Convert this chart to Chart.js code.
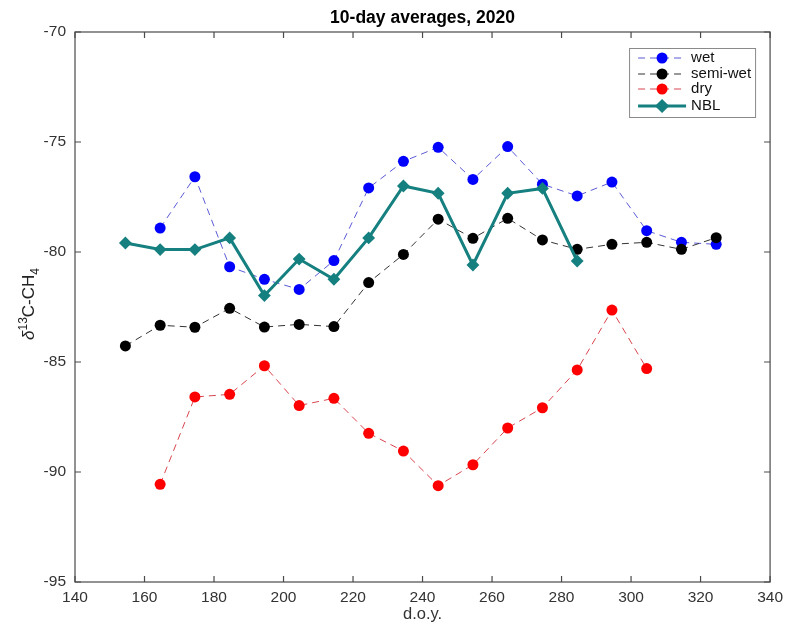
<!DOCTYPE html>
<html>
<head>
<meta charset="utf-8">
<script src="https://cdn.jsdelivr.net/npm/chart.js@4/dist/chart.umd.min.js"></script>
<style>
  html,body{margin:0;padding:0;background:#fff;}
  #wrap{width:789px;height:630px;}
</style>
</head>
<body>
<div id="wrap"><canvas id="c" width="789" height="630"></canvas></div>
<script>
// ---- data ----
const xTickValues = [140, 160, 180, 200, 220, 240, 260, 280, 300, 320, 340];
const yTickValues = [-95, -90, -85, -80, -75, -70];

const doyWet = [164.5, 174.5, 184.5, 194.5, 204.5, 214.5, 224.5, 234.5, 244.5, 254.5, 264.5, 274.5, 284.5, 294.5, 304.5, 314.5, 324.5];
const wet = [-78.91, -76.58, -80.67, -81.24, -81.70, -80.39, -77.09, -75.88, -75.24, -76.70, -75.21, -76.92, -77.45, -76.82, -79.03, -79.56, -79.65];

const doySemi = [154.5, 164.5, 174.5, 184.5, 194.5, 204.5, 214.5, 224.5, 234.5, 244.5, 254.5, 264.5, 274.5, 284.5, 294.5, 304.5, 314.5, 324.5];
const semiWet = [-84.27, -83.33, -83.42, -82.56, -83.41, -83.29, -83.39, -81.39, -80.11, -78.51, -79.38, -78.47, -79.45, -79.88, -79.65, -79.56, -79.88, -79.35];

const doyDry = [164.5, 174.5, 184.5, 194.5, 204.5, 214.5, 224.5, 234.5, 244.5, 254.5, 264.5, 274.5, 284.5, 294.5, 304.5];
const dry = [-90.56, -86.59, -86.47, -85.17, -86.98, -86.65, -88.24, -89.05, -90.62, -89.67, -88.00, -87.08, -85.36, -82.64, -85.30];

const doyNBL = [154.5, 164.5, 174.5, 184.5, 194.5, 204.5, 214.5, 224.5, 234.5, 244.5, 254.5, 264.5, 274.5, 284.5];
const nbl = [-79.59, -79.89, -79.89, -79.36, -81.98, -80.32, -81.24, -79.36, -77.00, -77.33, -80.59, -77.33, -77.11, -80.41];

const seriesNames = ['wet', 'semi-wet', 'dry', 'NBL'];

const pts = (xs, ys) => xs.map((x, i) => ({x: x, y: ys[i]}));

const FONT = '"Liberation Sans", Arial, Helvetica, sans-serif';

const datasets = [
  {label: seriesNames[0], data: pts(doyWet, wet), borderColor: '#5a5ad6', borderWidth: 1, borderDash: [7, 5],
   pointBackgroundColor: '#0000ff', pointBorderColor: '#0000ff', pointRadius: 5.5, pointBorderWidth: 0, pointStyle: 'circle', order: 3},
  {label: seriesNames[1], data: pts(doySemi, semiWet), borderColor: '#333333', borderWidth: 1, borderDash: [7, 5],
   pointBackgroundColor: '#000000', pointBorderColor: '#000000', pointRadius: 5.5, pointBorderWidth: 0, pointStyle: 'circle', order: 2},
  {label: seriesNames[2], data: pts(doyDry, dry), borderColor: '#d9454f', borderWidth: 1, borderDash: [7, 5],
   pointBackgroundColor: '#ff0000', pointBorderColor: '#ff0000', pointRadius: 5.5, pointBorderWidth: 0, pointStyle: 'circle', order: 4},
  {label: seriesNames[3], data: pts(doyNBL, nbl), borderColor: '#15807f', borderWidth: 3, borderDash: [],
   pointBackgroundColor: '#15807f', pointBorderColor: '#15807f', pointRadius: 5, pointBorderWidth: 2, pointStyle: 'rectRot', order: 1}
];
datasets.forEach(d => { d.showLine = true; d.fill = false; d.tension = 0; d.pointHoverRadius = d.pointRadius; });

const framePlugin = {
  id: 'frame',
  afterDatasetsDraw(chart) {
    const ctx = chart.ctx;
    const a = chart.chartArea;
    const xs = chart.scales.x, ys = chart.scales.y;
    ctx.save();
    // box
    ctx.strokeStyle = '#4a4a4a';
    ctx.lineWidth = 1.2;
    ctx.strokeRect(a.left, a.top, a.right - a.left, a.bottom - a.top);
    // inward ticks
    const tl = 6;
    ctx.beginPath();
    xTickValues.forEach(v => {
      const px = xs.getPixelForValue(v);
      ctx.moveTo(px, a.bottom); ctx.lineTo(px, a.bottom - tl);
      ctx.moveTo(px, a.top); ctx.lineTo(px, a.top + tl);
    });
    yTickValues.forEach(v => {
      const py = ys.getPixelForValue(v);
      ctx.moveTo(a.left, py); ctx.lineTo(a.left + tl, py);
      ctx.moveTo(a.right, py); ctx.lineTo(a.right - tl, py);
    });
    ctx.stroke();

    // y-axis label with super/subscripts
    const cy = (a.top + a.bottom) / 2 - 3;
    ctx.translate(28, cy);
    ctx.rotate(-Math.PI / 2);
    ctx.fillStyle = '#222';
    ctx.textBaseline = 'alphabetic';
    const parts = [
      {t: '\u03B4', f: 'italic 17px ' + FONT, dy: 0},
      {t: '13', f: '12px ' + FONT, dy: -7},
      {t: 'C-CH', f: '17px ' + FONT, dy: 0},
      {t: '4', f: '12px ' + FONT, dy: 5}
    ];
    let total = 0;
    parts.forEach(p => { ctx.font = p.f; p.w = ctx.measureText(p.t).width; total += p.w; });
    let x = -total / 2;
    parts.forEach(p => { ctx.font = p.f; ctx.fillText(p.t, x, 6 + p.dy); x += p.w; });
    ctx.restore();

    // legend
    ctx.save();
    const lx = a.right - 141, ly = a.top + 16, lw = 126, lh = 69;
    ctx.fillStyle = '#ffffff';
    ctx.fillRect(lx, ly, lw, lh);
    ctx.strokeStyle = '#8a8a8a';
    ctx.lineWidth = 1;
    ctx.strokeRect(lx + 0.5, ly + 0.5, lw, lh);
    const rows = [10, 26, 41, 58];
    chart.data.datasets.forEach((d, i) => {
      const ry = ly + rows[i];
      ctx.save();
      ctx.strokeStyle = d.borderColor;
      ctx.lineWidth = d.borderWidth;
      ctx.setLineDash(d.borderDash || []);
      ctx.beginPath();
      ctx.moveTo(lx + 9, ry); ctx.lineTo(lx + 57, ry);
      ctx.stroke();
      ctx.setLineDash([]);
      ctx.fillStyle = d.pointBackgroundColor;
      ctx.strokeStyle = d.pointBorderColor;
      Chart.helpers.drawPoint(ctx, {pointStyle: d.pointStyle, radius: d.pointRadius, borderWidth: d.pointBorderWidth, rotation: 0}, lx + 33, ry);
      ctx.restore();
      ctx.fillStyle = '#111';
      ctx.font = '15px ' + FONT;
      ctx.textBaseline = 'middle';
      ctx.textAlign = 'left';
      ctx.fillText(d.label, lx + 62, ry);
    });
    ctx.restore();
  }
};

new Chart(document.getElementById('c'), {
  type: 'scatter',
  data: {datasets: datasets},
  plugins: [framePlugin],
  options: {
    responsive: false,
    animation: false,
    devicePixelRatio: 1,
    layout: {padding: {left: 0, right: 17, top: 0, bottom: 0}},
    plugins: {
      legend: {display: false},
      tooltip: {enabled: false},
      title: {
        display: true,
        text: '10-day averages, 2020',
        fullSize: false,
        color: '#000',
        font: {family: FONT, size: 17.5, weight: 'bold', lineHeight: 1.2},
        padding: {top: 8, bottom: 3}
      }
    },
    scales: {
      x: {
        type: 'linear',
        min: xTickValues[0],
        max: xTickValues[xTickValues.length - 1],
        afterBuildTicks: s => { s.ticks = xTickValues.map(v => ({value: v})); },
        afterFit: s => { s.height = 48; },
        grid: {display: false, drawTicks: false},
        border: {display: false},
        ticks: {color: '#333', font: {family: FONT, size: 15.5}, padding: 6, maxRotation: 0, autoSkip: false},
        title: {display: true, text: 'd.o.y.', color: '#333', font: {family: FONT, size: 16.5, lineHeight: 1.2}, padding: {top: 0, bottom: 6}}
      },
      y: {
        type: 'linear',
        min: yTickValues[0],
        max: yTickValues[yTickValues.length - 1],
        afterBuildTicks: s => { s.ticks = yTickValues.map(v => ({value: v})); },
        afterFit: s => { s.width = 75; },
        grid: {display: false, drawTicks: false},
        border: {display: false},
        ticks: {color: '#333', font: {family: FONT, size: 15.5}, padding: 9, autoSkip: false}
      }
    }
  }
});
</script>
</body>
</html>
